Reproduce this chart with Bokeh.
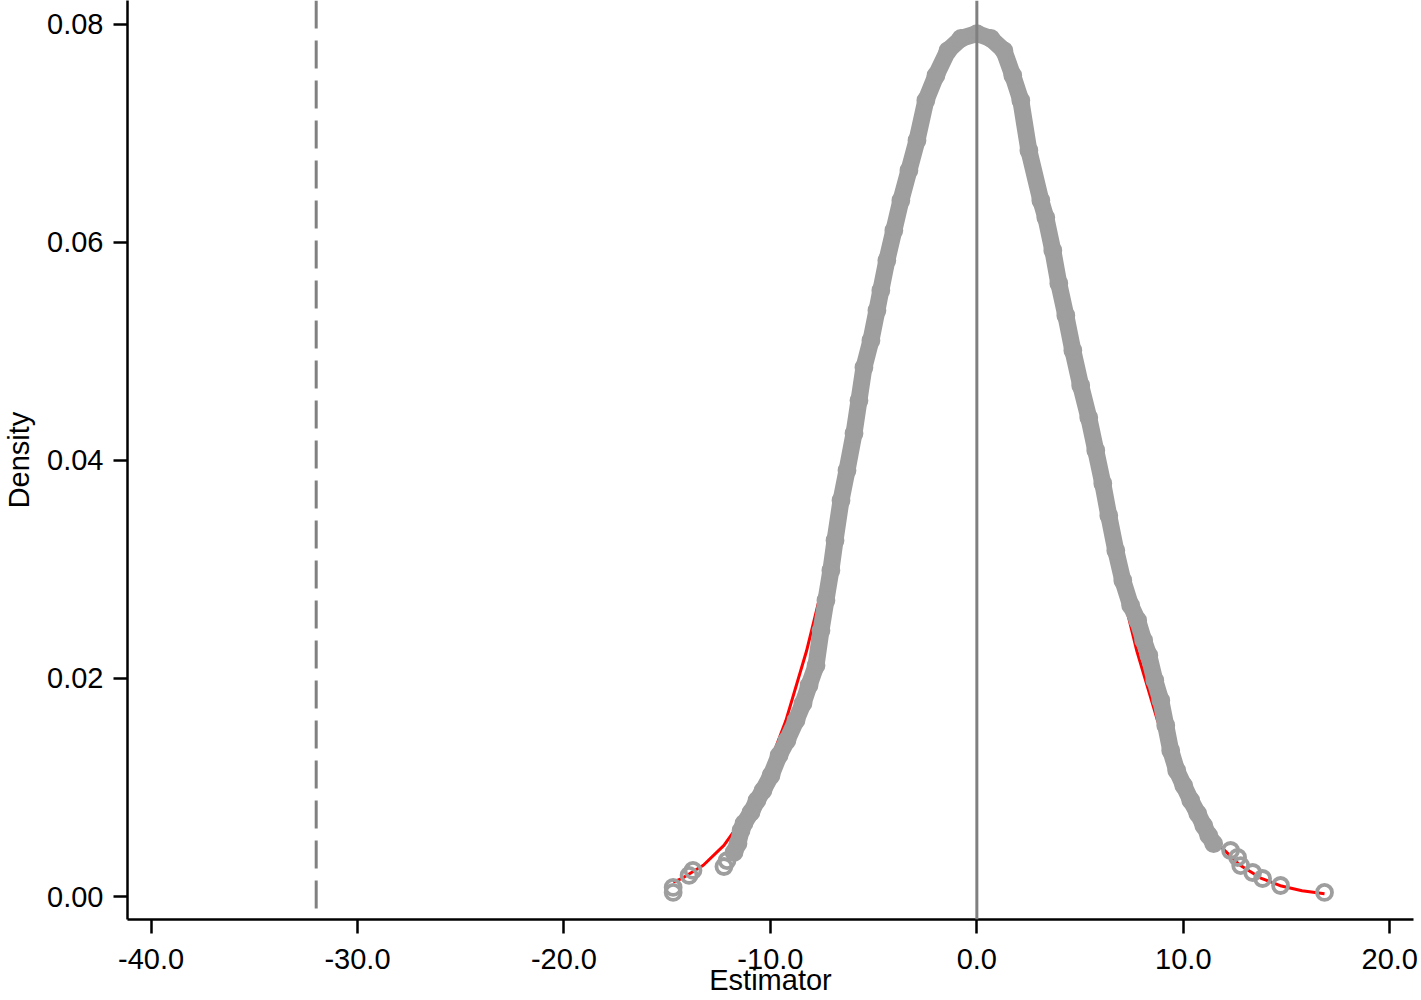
from bokeh.plotting import figure
from bokeh.models import Span, FixedTicker, NumeralTickFormatter, Range1d
from bokeh.embed import file_html
from bokeh.resources import INLINE

# Normal density (red curve)
normal_x = [-14.71, -14.25, -13.25, -12.25, -11.25, -10.25, -9.25, -8.25, -7.25, -6.25,
            -5.25, -4.25, -3.25, -2.75, -2.25, -1.75, -1.25, -0.75, -0.25, 0.25, 0.75,
            1.25, 1.75, 2.25, 2.75, 3.75, 4.75, 5.75, 6.75, 7.75, 8.75, 9.75, 10.75,
            11.75, 12.75, 13.75, 14.75, 15.75, 16.84]
normal_y = [0.00131, 0.00169, 0.00287, 0.00469, 0.00736, 0.01112, 0.01614, 0.02252,
            0.03023, 0.03900, 0.04840, 0.05790, 0.06630, 0.07000, 0.07350, 0.07580,
            0.07740, 0.07850, 0.07900, 0.07890, 0.07820, 0.07700, 0.07520, 0.07270,
            0.06750, 0.05850, 0.04870, 0.03900, 0.03023, 0.02252, 0.01614, 0.01112,
            0.00736, 0.00469, 0.00287, 0.00169, 0.00096, 0.00052, 0.00026]

# Estimated density at the estimator values (gray markers), main dense band
band_x = [-11.76, -11.57, -11.42, -11.28, -10.94, -10.65, -10.36, -9.97, -9.58, -9.20,
          -8.76, -8.42, -8.13, -7.79, -7.55, -7.31, -7.07, -6.87, -6.58, -6.29, -5.95,
          -5.71, -5.47, -5.13, -4.84, -4.65, -4.36, -4.02, -3.68, -3.29, -2.90, -2.47,
          -1.98, -1.40, -0.77, 0.00, 0.68, 1.31, 1.74, 2.13, 2.52, 3.10, 3.34, 3.68,
          3.97, 4.31, 4.65, 5.03, 5.42, 5.76, 6.10, 6.39, 6.73, 7.07, 7.45, 7.79, 8.08,
          8.33, 8.62, 8.91, 9.15, 9.39, 9.68, 10.02, 10.36, 10.70, 10.99, 11.23, 11.47]
band_y = [0.00404, 0.00486, 0.00606, 0.00670, 0.00771, 0.00881, 0.00972, 0.01110,
          0.01294, 0.01431, 0.01615, 0.01771, 0.01936, 0.02119, 0.02440, 0.02716,
          0.02991, 0.03266, 0.03633, 0.03908, 0.04248, 0.04550, 0.04853, 0.05101,
          0.05376, 0.05560, 0.05835, 0.06110, 0.06385, 0.06661, 0.06936, 0.07303,
          0.07532, 0.07761, 0.07872, 0.07917, 0.07872, 0.07761, 0.07532, 0.07303,
          0.06844, 0.06385, 0.06229, 0.05927, 0.05624, 0.05330, 0.05009, 0.04688,
          0.04394, 0.04092, 0.03789, 0.03495, 0.03174, 0.02899, 0.02670, 0.02532,
          0.02349, 0.02211, 0.01982, 0.01798, 0.01569, 0.01339, 0.01156, 0.01018,
          0.00881, 0.00761, 0.00651, 0.00560, 0.00486]

# Isolated tail markers
tail_x = [-14.71, -14.71, -13.94, -13.75, -12.25, -12.10,
          12.29, 12.63, 12.78, 13.36, 13.84, 14.71, 16.84]
tail_y = [0.00037, 0.00083, 0.00193, 0.00239, 0.00275, 0.00330,
          0.00422, 0.00358, 0.00284, 0.00220, 0.00165, 0.00101, 0.00037]

x_ticks = [-40, -30, -20, -10, 0, 10, 20]
y_ticks = [0.0, 0.02, 0.04, 0.06, 0.08]
solid_line_at = 0.0
dashed_line_at = -32.0

FONT = "Liberation Sans"
GRAY = "#9e9e9e"

p = figure(width=1421, height=1000,
           x_range=Range1d(-41.14, 21.15), y_range=Range1d(-0.00211, 0.08220),
           output_backend="svg", toolbar_location=None,
           min_border_left=126, min_border_right=8, min_border_top=0, min_border_bottom=81)

p.xgrid.visible = False
p.ygrid.visible = False
p.outline_line_color = None
p.background_fill_color = "white"
p.border_fill_color = "white"

p.line(normal_x, normal_y, line_color="#ff0000", line_width=3)
p.line(band_x, band_y, line_color=GRAY, line_width=17, line_join="round", line_cap="round")
p.scatter(band_x, band_y, marker="circle", size=15, fill_color=None,
          line_color=GRAY, line_width=3.8)
p.scatter(tail_x, tail_y, marker="circle", size=15, fill_color=None,
          line_color=GRAY, line_width=3.8)

p.add_layout(Span(location=solid_line_at, dimension="height",
                  line_color="#808080", line_width=3))
p.add_layout(Span(location=dashed_line_at, dimension="height",
                  line_color="#808080", line_width=3, line_dash="28 12"))

p.xaxis.ticker = FixedTicker(ticks=x_ticks)
p.yaxis.ticker = FixedTicker(ticks=y_ticks)
p.xaxis.formatter = NumeralTickFormatter(format="0.0")
p.yaxis.formatter = NumeralTickFormatter(format="0.00")
p.xaxis.axis_label = "Estimator"
p.yaxis.axis_label = "Density"

for ax in (p.xaxis[0], p.yaxis[0]):
    ax.axis_line_color = "black"
    ax.axis_line_width = 2.5
    ax.major_tick_line_color = "black"
    ax.major_tick_line_width = 2.5
    ax.major_tick_out = 14
    ax.major_tick_in = 0
    ax.minor_tick_line_color = None
    ax.major_label_text_font = FONT
    ax.major_label_text_font_size = "29px"
    ax.major_label_text_color = "black"
    ax.axis_label_text_font = FONT
    ax.axis_label_text_font_size = "29px"
    ax.axis_label_text_font_style = "normal"
    ax.axis_label_text_color = "black"

p.xaxis.major_label_standoff = 15
p.xaxis.axis_label_standoff = -8
p.yaxis.major_label_standoff = 10
p.yaxis.axis_label_standoff = 9

open("out.html", "w").write(file_html(p, INLINE))
